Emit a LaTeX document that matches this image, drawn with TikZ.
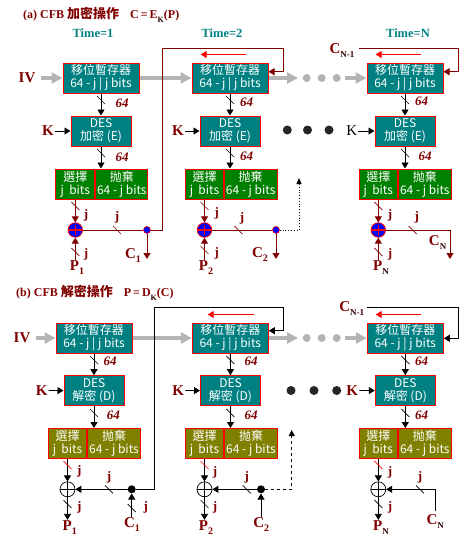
\documentclass[tikz,border=0pt]{standalone}
\usepackage{fontspec}
\setmainfont{Liberation Serif}
\newfontfamily\cjk{Noto Sans CJK TC}
\usetikzlibrary{arrows.meta,calc}
\definecolor{tealc}{HTML}{008080}
\definecolor{greenc}{HTML}{008000}
\definecolor{olivec}{HTML}{808000}
\definecolor{darkredc}{HTML}{800000}
\definecolor{grayc}{HTML}{B4B4B4}
\definecolor{bluec}{HTML}{0000FF}
\definecolor{subc}{HTML}{300000}
\newcommand\lsub[1]{\raisebox{-4pt}{\fontsize{10}{10}\selectfont #1}}
\newcommand\nsub[1]{\raisebox{-4pt}{\fontsize{9}{9}\selectfont\color{subc}#1}}
\newcommand\tsub[1]{\raisebox{-3.5pt}{\fontsize{8}{8}\selectfont\color{subc}#1}}
\newcommand\slsh[2][black]{\draw[#1,line width=0.7pt] ($(#2)+(-4,-4)$) -- ($(#2)+(4,4)$);}
\tikzset{
  regbox/.style={draw=red, line width=1pt, fill=tealc, text=white, minimum width=76pt,
    minimum height=30pt, inner sep=0pt, align=center, font=\cjk\fontsize{12}{13}\selectfont},
  desbox/.style={regbox, minimum width=60pt},
  selbox/.style={regbox, fill=greenc},
  selboxb/.style={regbox, fill=olivec},
  xora/.style={circle, draw=red, fill=bluec, line width=0.8pt, minimum size=14.5pt, inner sep=0pt,
    path picture={\draw[red,line width=1.2pt,shorten >=2.5pt,shorten <=2.5pt]
      (path picture bounding box.west) -- (path picture bounding box.east)
      (path picture bounding box.north) -- (path picture bounding box.south);}},
  xorb/.style={circle, draw=black, fill=white, line width=0.7pt, minimum size=15pt, inner sep=0pt,
    path picture={\draw[black,line width=0.7pt]
      (path picture bounding box.west) -- (path picture bounding box.east)
      (path picture bounding box.north) -- (path picture bounding box.south);}},
  cdota/.style={circle, draw=red, fill=bluec, line width=0.6pt, minimum size=7pt, inner sep=0pt},
  cdotb/.style={circle, fill=black, minimum size=8pt, inner sep=0pt},
  bigdot/.style={circle, fill=black!85, minimum size=9pt, inner sep=0pt},
  graydot/.style={circle, fill=grayc, minimum size=8pt, inner sep=0pt},
  lab/.style={text=darkredc, font=\bfseries\fontsize{15}{15}\selectfont, inner sep=1pt},
  labk/.style={text=black, font=\fontsize{15}{15}\selectfont, inner sep=1pt},
  num/.style={text=darkredc, font=\bfseries\itshape\fontsize{13}{13}\selectfont, inner sep=0pt},
  jl/.style={text=darkredc, font=\bfseries\fontsize{13}{13}\selectfont, inner sep=0pt},
  timel/.style={text=tealc, font=\bfseries\fontsize{12.5}{13}\selectfont, inner sep=0pt},
  ttl/.style={text=darkredc, font=\bfseries\fontsize{12}{14}\selectfont, inner sep=0pt, anchor=west},
  blk/.style={black, line width=0.8pt, -{Triangle[length=6pt,width=7pt]}},
  blkl/.style={black, line width=0.8pt},
  drl/.style={darkredc, line width=0.9pt},
  dra/.style={darkredc, line width=0.9pt, -{Triangle[length=6pt,width=7pt]}},
  redarr/.style={red, line width=0.8pt, -{Triangle[length=6pt,width=7pt]}},
  grayarr/.style={grayc, line width=3.5pt, -{Triangle[length=11pt,width=11pt]}},
}
\begin{document}
\begin{tikzpicture}[x=1pt,y=-1pt]
\useasboundingbox (0,0) rectangle (469,541);

% ================= (a) encryption =================
\node[ttl] (ta) at (23,15) {(a) CFB {\cjk\fontsize{13}{14}\selectfont 加密操作}\hspace{11pt}C\,=\,E\tsub{K}(P)};
\node[timel] (t1) at (93,33) {Time=1};
\node[timel] (t2) at (222,33) {Time=2};
\node[timel] (t3) at (408,33) {Time=N};

\node[regbox] (r1) at (101,78) {移位暫存器\\64 - j | j bits};
\node[regbox] (r2) at (230,78) {移位暫存器\\64 - j | j bits};
\node[regbox] (r3) at (405,78) {移位暫存器\\64 - j | j bits};

\node[desbox] (d1) at (101,131) {DES\\加密 (E)};
\node[desbox] (d2) at (230,131) {DES\\加密 (E)};
\node[desbox] (d3) at (405,131) {DES\\加密 (E)};

\node[selbox, minimum width=38.7pt] (s1) at (75.3,184) {選擇\\j\ \ bits};
\node[selbox, minimum width=52.3pt, anchor=west] (q1) at (s1.east) {抛棄\\64 - j bits};
\node[selbox, minimum width=37.6pt] (s2) at (204.5,184) {選擇\\j\ \ bits};
\node[selbox, minimum width=52.7pt, anchor=west] (q2) at (s2.east) {抛棄\\64 - j bits};
\node[selbox, minimum width=38pt] (s3) at (378.3,184) {選擇\\j\ \ bits};
\node[selbox, minimum width=53pt, anchor=west] (q3) at (s3.east) {抛棄\\64 - j bits};

\node[xora] (x1) at (75.3,230) {};
\node[xora] (x2) at (204.5,230) {};
\node[xora] (x3) at (378.3,230) {};
\node[cdota] (cd1) at (147,230) {};
\node[cdota] (cd2) at (276,230) {};

\node[lab] (iv) at (27,78) {IV};
\node[lab] (k1) at (48,131) {K};
\node[lab] (k2) at (178,131) {K};
\node[labk] (k3) at (351.7,131) {K};

\node[lab] (p1) at (77,268) {P\lsub{1}};
\node[lab] (p2) at (206,268) {P\lsub{2}};
\node[lab] (p3) at (381,268) {P\nsub{N}};
\node[lab] (c1) at (133,256) {C\lsub{1}};
\node[lab] (c2) at (260,255) {C\lsub{2}};
\node[lab] (c3) at (437.6,243) {C\nsub{N}};
\node[lab] (cn1) at (342,51) {C\nsub{N-1}};

\node[num] (n1) at (122,103) {64};
\node[num] (n2) at (122,157) {64};
\node[num] (n3) at (246.7,102) {64};
\node[num] (n4) at (246.7,156) {64};
\node[num] (n5) at (421.7,101) {64};
\node[num] (n6) at (425,156) {64};

\node[jl] (j1) at (86,215) {j};
\node[jl] (j2) at (86,254) {j};
\node[jl] (j3) at (117,217) {j};
\node[jl] (j4) at (216.7,213) {j};
\node[jl] (j5) at (216.7,253) {j};
\node[jl] (j6) at (242,218) {j};
\node[jl] (j7) at (390,215) {j};
\node[jl] (j8) at (390,254) {j};
\node[jl] (j9) at (416.7,217) {j};

% gray data path
\coordinate (g1) at (298,78);
\coordinate (g2) at (345,78);
\node[graydot] (gd1) at (306.7,78) {};
\node[graydot] (gd2) at (321.7,78) {};
\node[graydot] (gd3) at (336.7,78) {};
\draw[grayarr] (iv.east) ++(4,0) -- (r1.west);
\draw[grayarr] (r1) -- (r2);
\draw[grayarr] (r2) -- (g1);
\draw[grayarr] (g2) -- (r3);

\node[bigdot] (bd1) at (287.3,130) {};
\node[bigdot] (bd2) at (307.5,130) {};
\node[bigdot] (bd3) at (329,130) {};

% black arrows
\draw[blk] (r1) -- (d1);
\draw[blk] (r2) -- (d2);
\draw[blk] (r3) -- (d3);
\draw[blk] (d1) -- (d1 |- q1.north);
\draw[blk] (d2) -- (d2 |- q2.north);
\draw[blk] (d3) -- (d3 |- q3.north);
\draw[blk] (k1) -- (d1);
\draw[blk] (k2) -- (d2);
\draw[blk] (k3) -- (d3);

% dark red paths
\draw[dra] (s1) -- (x1);
\draw[dra] (s2) -- (x2);
\draw[dra] (s3) -- (x3);
\draw[dra] (p1.north -| x1) -- (x1);
\draw[dra] (p2.north -| x2) -- (x2);
\draw[dra] (p3.north -| x3) -- (x3);
\draw[drl] (x1) -- (cd1);
\draw[drl] (x2) -- (cd2);
\coordinate (c1e) at (147,259);
\coordinate (c2e) at (276,259);
\coordinate (c3e) at (450,259);
\draw[dra] (cd1) -- (c1e);
\draw[dra] (cd2) -- (c2e);
\draw[dra] (x3) -| (c3e);

\coordinate (fa2) at (283,71.7);
\draw[dra] (cd1) -| (162,48) -| (fa2) -- (fa2 -| r2.east);
\coordinate (fa3s) at (359.3,48);
\coordinate (fa3) at (458.7,71.7);
\draw[dra] (fa3s) -| (fa3) -- (fa3 -| r3.east);
\draw[redarr] ($(r2.north)+(15.7,-8)$) -- ($(r2.north)+(-29.3,-8)$);
\draw[redarr] ($(r3.north)+(15.7,-8)$) -- ($(r3.north)+(-29.3,-8)$);

\coordinate (dt2) at (299,178);
\draw[black, line width=0.8pt, dotted, -{Triangle[length=6pt,width=5pt]}] (cd2) -| (dt2);

% slashes (a)
\slsh{101,100} \slsh{101,153} \slsh{230,100} \slsh{230,153} \slsh{405,100} \slsh{405,153}
\slsh[darkredc]{75.3,206} \slsh[darkredc]{75.3,252} \slsh[darkredc]{117,230}
\slsh[darkredc]{204.5,206} \slsh[darkredc]{204.5,250} \slsh[darkredc]{238.3,230}
\slsh[darkredc]{378.3,206} \slsh[darkredc]{378.3,252} \slsh[darkredc]{412.7,230}

% ================= (b) decryption =================
\node[ttl] (tb) at (16,293) {(b) CFB {\cjk\fontsize{13}{14}\selectfont 解密操作}\hspace{11pt}P\,=\,D\tsub{K}(C)};

\node[regbox] (br1) at (94,338) {移位暫存器\\64 - j | j bits};
\node[regbox] (br2) at (230.3,338) {移位暫存器\\64 - j | j bits};
\node[regbox] (br3) at (405.3,338) {移位暫存器\\64 - j | j bits};

\node[desbox] (bd1x) at (94,390.7) {DES\\解密 (D)};
\node[desbox] (bd2x) at (230.5,390.7) {DES\\解密 (D)};
\node[desbox] (bd3x) at (405.3,390.7) {DES\\解密 (D)};

\node[selboxb, minimum width=38.4pt] (bs1) at (67.5,443.5) {選擇\\j\ \ bits};
\node[selboxb, minimum width=52.6pt, anchor=west] (bq1) at (bs1.east) {抛棄\\64 - j bits};
\node[selboxb, minimum width=37.6pt] (bs2) at (204.5,443.5) {選擇\\j\ \ bits};
\node[selboxb, minimum width=53.4pt, anchor=west] (bq2) at (bs2.east) {抛棄\\64 - j bits};
\node[selboxb, minimum width=38pt] (bs3) at (378.3,443.5) {選擇\\j\ \ bits};
\node[selboxb, minimum width=53pt, anchor=west] (bq3) at (bs3.east) {抛棄\\64 - j bits};

\node[xorb] (bx1) at (67.5,489.3) {};
\node[xorb] (bx2) at (204.5,489.3) {};
\node[xorb] (bx3) at (378.3,489.3) {};
\node[cdotb] (bcd1) at (131.7,489.3) {};
\node[cdotb] (bcd2) at (261,489.3) {};

\node[lab] (biv) at (22,338) {IV};
\node[lab] (bk1) at (41.7,390.5) {K};
\node[lab] (bk2) at (178.3,390.5) {K};
\node[lab] (bk3) at (352.3,390.5) {K};

\node[lab] (bp1) at (69.7,528) {P\lsub{1}};
\node[lab] (bp2) at (206,528) {P\lsub{2}};
\node[lab] (bp3) at (381,528) {P\nsub{N}};
\node[lab] (bc1) at (132,525) {C\lsub{1}};
\node[lab] (bc2) at (261.3,525) {C\lsub{2}};
\node[lab] (bc3) at (435.3,522) {C\nsub{N}};
\node[lab] (bcn1) at (351.7,309) {C\nsub{N-1}};

\node[num] (bn1) at (110,361.7) {64};
\node[num] (bn2) at (113.3,415) {64};
\node[num] (bn3) at (251,361.7) {64};
\node[num] (bn4) at (251,415) {64};
\node[num] (bn5) at (421.7,361.7) {64};
\node[num] (bn6) at (421.7,415) {64};

\node[jl] (bj1) at (79.3,471.7) {j};
\node[jl] (bj2) at (79.3,507) {j};
\node[jl] (bj3) at (109,477) {j};
\node[jl] (bj4) at (145.7,507) {j};
\node[jl] (bj5) at (215,472.7) {j};
\node[jl] (bj6) at (215,507) {j};
\node[jl] (bj7) at (246.7,477) {j};
\node[jl] (bj8) at (390,472.7) {j};
\node[jl] (bj9) at (390,507) {j};
\node[jl] (bj10) at (420,477) {j};

% gray data path
\coordinate (bg1) at (298,338);
\coordinate (bg2) at (345,338);
\node[graydot] (bgd1) at (306.7,338) {};
\node[graydot] (bgd2) at (321.7,338) {};
\node[graydot] (bgd3) at (336.7,338) {};
\draw[grayarr] (biv.east) ++(4,0) -- (br1.west);
\draw[grayarr] (br1) -- (br2);
\draw[grayarr] (br2) -- (bg1);
\draw[grayarr] (bg2) -- (br3);

\node[bigdot] (bb1) at (291,390.5) {};
\node[bigdot] (bb2) at (314,390.5) {};
\node[bigdot] (bb3) at (336.7,390.5) {};

\draw[blk] (br1) -- (bd1x);
\draw[blk] (br2) -- (bd2x);
\draw[blk] (br3) -- (bd3x);
\draw[blk] (bd1x) -- (bd1x |- bq1.north);
\draw[blk] (bd2x) -- (bd2x |- bq2.north);
\draw[blk] (bd3x) -- (bd3x |- bq3.north);
\draw[blk] (bk1) -- (bd1x);
\draw[blk] (bk2) -- (bd2x);
\draw[blk] (bk3) -- (bd3x);

\draw[blk] (bs1) -- (bx1);
\draw[blk] (bs2) -- (bx2);
\draw[blk] (bs3) -- (bx3);
\draw[blk] (bx1) -- (bx1 |- bp1.north);
\draw[blk] (bx2) -- (bx2 |- bp2.north);
\draw[blk] (bx3) -- (bx3 |- bp3.north);
\draw[blk] (bcd1) -- (bx1);
\draw[blk] (bcd2) -- (bx2);
\draw[blk] (bc1.north -| bcd1) -- (bcd1);
\draw[blk] (bc2.north -| bcd2) -- (bcd2);
\coordinate (cnb) at (435,511);
\draw[blk] (cnb) |- (bx3);

\coordinate (bf2) at (283.3,330.7);
\draw[blk] (bcd1) -| (154.3,307.3) -| (bf2) -- (bf2 -| br2.east);
\coordinate (bf3s) at (366.7,307.3);
\coordinate (bf3) at (458.7,338.3);
\draw[blk] (bf3s) -| (bf3) -- (bf3 -| br3.east);
\draw[redarr] ($(br2.north)+(23.7,-8)$) -- ($(br2.north)+(-22.6,-8)$);
\draw[redarr] ($(br3.north)+(15.4,-8)$) -- ($(br3.north)+(-29.6,-8)$);

\coordinate (bdt2) at (291.7,430);
\draw[black, line width=0.8pt, dashed, -{Triangle[length=6pt,width=6pt]}] (bcd2) -| (bdt2);

% slashes (b)
\slsh{94,360} \slsh{94,413} \slsh{230.3,360} \slsh{230.3,413} \slsh{405.3,360} \slsh{405.3,413}
\slsh[red]{67.5,465} \slsh{67.5,504} \slsh{109,489.3} \slsh{131.7,508}
\slsh[red]{204.5,465} \slsh{204.5,504} \slsh{246.7,489.3}
\slsh[red]{378.3,465} \slsh{378.3,504} \slsh{420,489.3}
\end{tikzpicture}
\end{document}
